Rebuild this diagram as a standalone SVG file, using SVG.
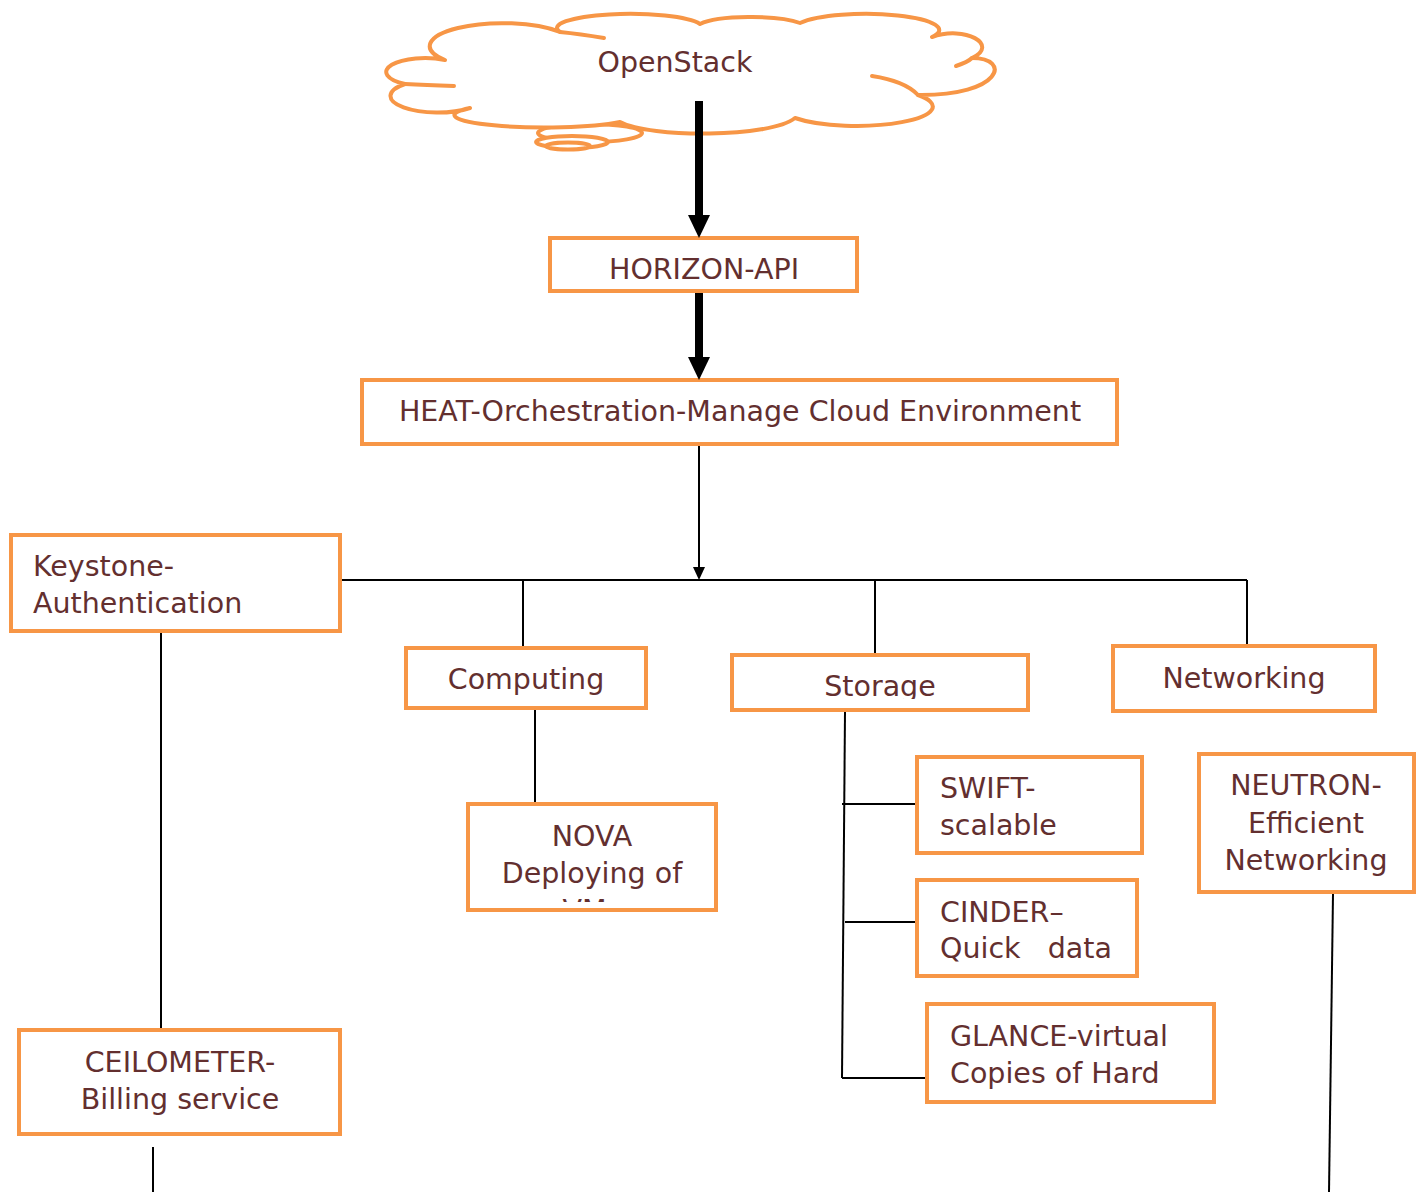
<svg xmlns="http://www.w3.org/2000/svg" width="1421" height="1192" viewBox="0 0 1421 1192">
<style>
.box{fill:#fff;stroke:#f79646;stroke-width:4}
.cl{fill:#fff;stroke:#f79646;stroke-width:4;stroke-linejoin:round}
.seam{fill:none;stroke:#f79646;stroke-width:4;stroke-linecap:round}
.t{font-family:"DejaVu Sans",sans-serif;font-size:28.5px;fill:#632f2f}
.c{text-anchor:middle}
.ln{stroke:#000;stroke-width:2;fill:none}
.thick{stroke:#000;stroke-width:8;fill:none}
</style>
<defs>
<clipPath id="clipStorage"><rect x="734" y="657" width="292" height="42"/></clipPath>
<clipPath id="clipNova"><rect x="470" y="806" width="244" height="96"/></clipPath>
</defs>
<g id="openstack">
<ellipse class="cl" cx="590" cy="133" rx="52" ry="9"/>
<ellipse class="cl" cx="572" cy="142" rx="36" ry="6"/>
<ellipse class="cl" cx="568" cy="146" rx="22" ry="3.5"/>
<path class="cl" d="M 445 60 A 70 22 0 0 1 560 32 A 72 14 0 0 1 700 24 A 55 11 0 0 1 800 23 A 68 15 0 0 1 932 37 C 965 25 1000 45 972 58 C 1012 58 1002 96 918 95 A 55 14 0 0 1 795 118 C 770 138 650 138 620 122 A 80 11 0 0 1 470 108 A 34 12 0 0 1 405 84 A 36 13 0 0 1 445 60 Z"/>
<path class="seam" d="M 872 76 Q 905 81 918 95"/>
<path class="seam" d="M 972 58 Q 968 62 956 66"/>
<path class="seam" d="M 405 84 Q 425 85 454 86"/>
<path class="seam" d="M 560 32 Q 580 34 604 38"/>
<text class="t c" x="675" y="72">OpenStack</text>
</g>
<g id="horizon">
<rect class="box" x="550" y="238" width="307" height="53"/>
<text class="t c" x="704" y="279">HORIZON-API</text>
</g>
<g id="heat">
<rect class="box" x="362" y="380" width="755" height="64"/>
<text class="t c" x="740" y="421">HEAT-Orchestration-Manage Cloud Environment</text>
</g>
<g id="keystone">
<rect class="box" x="11" y="535" width="329" height="96"/>
<text class="t" x="33" y="576">Keystone-</text>
<text class="t" x="33" y="613">Authentication</text>
</g>
<g id="computing">
<rect class="box" x="406" y="648" width="240" height="60"/>
<text class="t c" x="526" y="689">Computing</text>
</g>
<g id="storage">
<rect class="box" x="732" y="655" width="296" height="55"/>
<text class="t c" x="880" y="696" clip-path="url(#clipStorage)">Storage</text>
</g>
<g id="networking">
<rect class="box" x="1113" y="646" width="262" height="65"/>
<text class="t c" x="1244" y="688">Networking</text>
</g>
<g id="nova">
<rect class="box" x="468" y="804" width="248" height="106"/>
<g clip-path="url(#clipNova)">
<text class="t c" x="592" y="846">NOVA</text>
<text class="t c" x="592" y="883">Deploying of</text>
<text class="t c" x="592" y="920">VMs</text>
</g>
</g>
<g id="swift">
<rect class="box" x="917" y="757" width="225" height="96"/>
<text class="t" x="940" y="798">SWIFT-</text>
<text class="t" x="940" y="835">scalable</text>
</g>
<g id="cinder">
<rect class="box" x="917" y="880" width="220" height="96"/>
<text class="t" x="940" y="922">CINDER–</text>
<text class="t" x="940" y="958" xml:space="preserve">Quick   data</text>
</g>
<g id="glance">
<rect class="box" x="927" y="1004" width="287" height="98"/>
<text class="t" x="950" y="1046">GLANCE-virtual</text>
<text class="t" x="950" y="1083">Copies of Hard</text>
</g>
<g id="neutron">
<rect class="box" x="1199" y="754" width="215" height="138"/>
<text class="t c" x="1306" y="795">NEUTRON-</text>
<text class="t c" x="1306" y="833">Efficient</text>
<text class="t c" x="1306" y="870">Networking</text>
</g>
<g id="ceilometer">
<rect class="box" x="19" y="1030" width="321" height="104"/>
<text class="t c" x="180" y="1072">CEILOMETER-</text>
<text class="t c" x="180" y="1109">Billing service</text>
</g>
<g id="connectors">
<line class="thick" x1="699" y1="101" x2="699" y2="217"/>
<polygon points="688,215 710,215 699,238" fill="#000"/>
<line class="thick" x1="699" y1="293" x2="699" y2="359"/>
<polygon points="688,357 710,357 699,380" fill="#000"/>
<line class="ln" x1="699" y1="446" x2="699" y2="570"/>
<polygon points="693,567 705,567 699,580" fill="#000"/>
<line class="ln" x1="342" y1="580" x2="1247" y2="580"/>
<line class="ln" x1="523" y1="580" x2="523" y2="646"/>
<line class="ln" x1="875" y1="580" x2="875" y2="653"/>
<line class="ln" x1="1247" y1="580" x2="1247" y2="644"/>
<line class="ln" x1="535" y1="710" x2="535" y2="802"/>
<line class="ln" x1="845" y1="712" x2="842" y2="1078"/>
<line class="ln" x1="842" y1="804" x2="915" y2="804"/>
<line class="ln" x1="845" y1="922" x2="915" y2="922"/>
<line class="ln" x1="842" y1="1078" x2="925" y2="1078"/>
<line class="ln" x1="161" y1="633" x2="161" y2="1028"/>
<line class="ln" x1="153" y1="1147" x2="153" y2="1192"/>
<line class="ln" x1="1333" y1="894" x2="1329" y2="1192"/>
</g>
</svg>
